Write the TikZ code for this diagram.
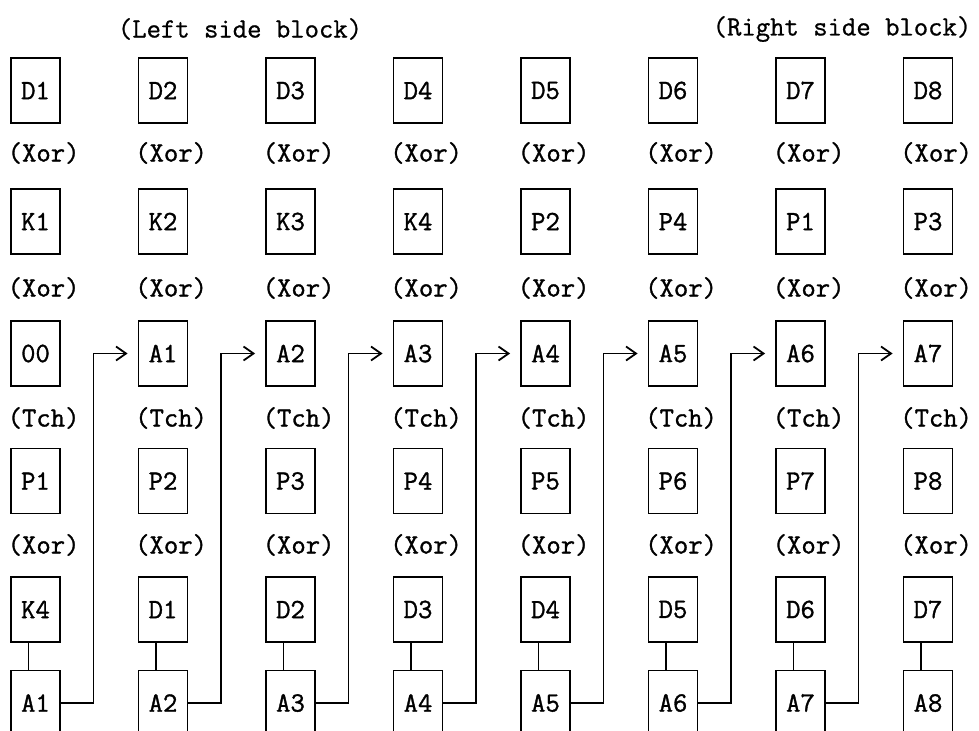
\documentclass[tikz,border=0pt]{standalone}
\usepackage{fontspec}
\newfontfamily\boxfont{Latin Modern Mono}[FakeBold=1.2]
\newfontfamily\headfont{Latin Modern Mono}[FakeBold=0.8]
\usetikzlibrary{arrows.meta}
\begin{document}
\begin{tikzpicture}[x=1bp,y=-1bp,
  bx/.style={draw,line width=1.8bp,minimum width=49bp,minimum height=65bp,inner sep=0pt,font=\boxfont\fontsize{28}{30}\selectfont},
  lab/.style={anchor=west,inner sep=0pt,font=\boxfont\fontsize{28}{30}\selectfont},
  head/.style={inner sep=0pt,font=\headfont\fontsize{28}{30}\selectfont},
  ln/.style={line width=1.8bp},
  arr/.style={line width=1.8bp,-{Straight Barb[length=10bp,width=14bp,line width=1.8bp]}}]
\useasboundingbox (0,0) rectangle (979,731);
\fill[white] (0,0) rectangle (979,731);
\node[head] (hl) at (240,29) {(Left side block)};
\node[head] (hr) at (842,29) {(Right side block)};
\foreach \i/\dl/\kl/\tl/\pl/\ql/\al in {1/D1/K1/00/P1/K4/A1, 2/D2/K2/A1/P2/D1/A2, 3/D3/K3/A2/P3/D2/A3, 4/D4/K4/A3/P4/D3/A4, 5/D5/P2/A4/P5/D4/A5, 6/D6/P4/A5/P6/D5/A6, 7/D7/P1/A6/P7/D6/A7, 8/D8/P3/A7/P8/D7/A8}{
  \pgfmathsetmacro{\cx}{35.5+127.5*(\i-1)}
  \node[bx] (d\i) at (\cx,90.5) {\dl};
  \node[bx] (k\i) at (\cx,221.5) {\kl};
  \node[bx] (t\i) at (\cx,353.5) {\tl};
  \node[bx] (p\i) at (\cx,481) {\pl};
  \node[bx] (q\i) at (\cx,609.5) {\ql};
  \node[bx] (a\i) at (\cx,703) {\al};
  \node[lab] (xa\i) at (\cx-28,153) {(Xor)};
  \node[lab] (xb\i) at (\cx-28,288) {(Xor)};
  \node[lab] (tc\i) at (\cx-28,418) {(Tch)};
  \node[lab] (xc\i) at (\cx-28,545) {(Xor)};
  \draw[ln] ([xshift=-7bp]q\i.south) -- ([xshift=-7bp]a\i.north);
}
\foreach \i [evaluate=\i as \j using int(\i+1)] in {1,...,7}{
  \draw[arr] (a\i.east) -- ++(32.5,0) |- ([xshift=-10bp]t\j.west);
}
\end{tikzpicture}
\end{document}
